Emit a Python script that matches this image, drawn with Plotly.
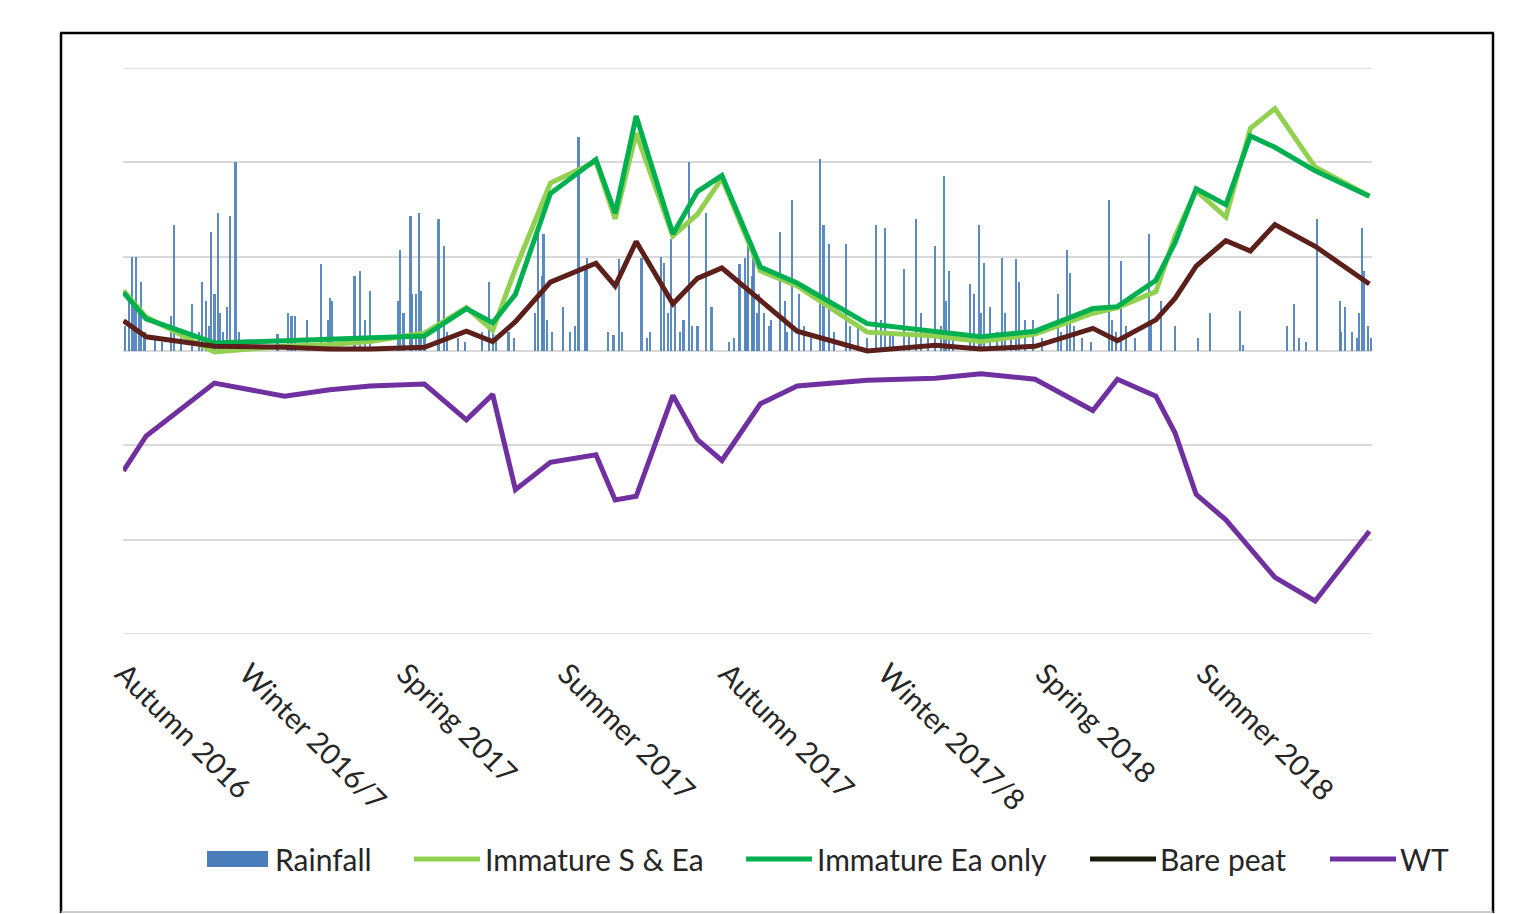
import pandas as pd
import plotly.graph_objects as go

# ---- data -------------------------------------------------------------
sample_dates = [
    "2016-09-21", "2016-10-04", "2016-11-12", "2016-12-22", "2017-01-17",
    "2017-02-09", "2017-03-12", "2017-04-05", "2017-04-20", "2017-05-03",
    "2017-05-23", "2017-06-18", "2017-06-29", "2017-07-11", "2017-08-01",
    "2017-08-15", "2017-08-29", "2017-09-20", "2017-10-11", "2017-11-20",
    "2017-12-29", "2018-01-24", "2018-02-24", "2018-03-29", "2018-04-12",
    "2018-05-04", "2018-05-15", "2018-05-27", "2018-06-13", "2018-06-27",
    "2018-07-11", "2018-08-03", "2018-09-03",
]
immature_s_ea = [0.64, 0.36, -0.01, 0.05, 0.07, 0.10, 0.19, 0.46, 0.22, 0.87,
                 1.78, 2.01, 1.40, 2.31, 1.22, 1.45, 1.83, 0.85, 0.69, 0.20,
                 0.16, 0.10, 0.18, 0.40, 0.46, 0.63, 1.22, 1.70, 1.42, 2.36,
                 2.57, 1.95, 1.64]
immature_ea = [0.62, 0.34, 0.085, 0.11, 0.12, 0.13, 0.16, 0.45, 0.30, 0.60,
               1.67, 2.03, 1.46, 2.49, 1.24, 1.69, 1.86, 0.89, 0.72, 0.29,
               0.21, 0.15, 0.21, 0.45, 0.47, 0.75, 1.15, 1.72, 1.55, 2.28,
               2.16, 1.91, 1.64]
bare_peat = [0.32, 0.15, 0.05, 0.04, 0.02, 0.02, 0.04, 0.21, 0.10, 0.31,
             0.73, 0.93, 0.69, 1.16, 0.50, 0.77, 0.88, 0.53, 0.21, 0.00,
             0.06, 0.02, 0.05, 0.24, 0.11, 0.33, 0.56, 0.90, 1.17, 1.06,
             1.34, 1.11, 0.71]
water_table = [-1.27, -0.90, -0.34, -0.48, -0.41, -0.37, -0.35, -0.73, -0.46, -1.47,
               -1.18, -1.10, -1.58, -1.54, -0.47, -0.94, -1.16, -0.56, -0.37, -0.31,
               -0.29, -0.24, -0.30, -0.63, -0.30, -0.48, -0.87, -1.52, -1.79, -2.10,
               -2.40, -2.65, -1.91]

# daily rainfall (mm), wet days only, counted from the first day of the record
record_start = "2016-09-21"
rain_day = [1, 3, 5, 6, 7, 9, 10, 12, 18, 22, 27, 29, 33, 39, 43, 45, 47, 49, 50, 52,
            54, 55, 57, 59, 61, 64, 66,
            88, 94, 96, 98, 105, 113, 117, 118, 119, 132, 135, 138, 141, 157, 158, 160,
            164, 165, 167, 169, 170, 172,
            180, 183, 185, 191, 195, 205, 209, 211, 213, 220, 223, 235, 237, 239, 240,
            242, 245, 251, 255, 258, 260, 264, 265,
            277, 280, 283, 285, 296, 299, 301, 307, 309, 311, 313, 315, 318, 320, 323,
            325, 328, 333, 336, 346, 349, 352, 355,
            356, 357, 359, 360, 362, 363, 366, 369, 370, 375, 378, 379, 382, 386, 389,
            393, 398, 400, 403, 406, 413, 415, 420, 425, 430, 433, 435, 438, 440,
            446, 449, 453, 456, 460, 464, 467, 469, 470, 472, 474, 484, 486, 489, 490,
            492, 495, 499, 502, 504, 507, 510, 512, 515, 520, 525,
            534, 536, 539, 541, 543, 548, 553, 563, 565, 567, 570, 573, 578, 586, 587,
            593, 601, 614,
            621, 638, 640, 665, 669, 672, 676, 682, 695, 696, 698, 702, 705, 706, 708,
            709, 711, 713]
rain_mm = [4, 9, 15, 8, 15, 6, 11, 3, 2, 1.5, 5.6, 20, 2, 7.5, 3, 11, 8, 4, 19, 9,
           22, 6, 3, 7, 21.5, 30, 3,
           2.7, 6, 5.5, 5.5, 5, 13.8, 5, 8.5, 8, 12, 12.7, 5, 9.5, 8, 16, 6,
           21.5, 9, 9, 22, 9.5, 3,
           21, 16.7, 3, 2, 1.5, 3, 11, 4, 2.5, 3, 2, 6, 18.6, 12, 18.6,
           5, 3, 7, 3, 4, 34, 13, 14.8,
           3, 2.5, 14.6, 3, 14.8, 2, 3, 15, 14, 6, 17.8, 8, 3, 5, 30,
           4, 4, 22, 7, 1.5, 2, 13.8, 14.8,
           10, 17, 12, 15, 6, 9, 6, 4, 5, 19, 8, 3, 24, 9, 4,
           2, 30.5, 20, 17, 3, 17, 4, 4, 2, 20, 5, 19.5, 3, 2.5,
           13, 3, 21, 6, 2, 16.7, 4, 27.8, 8, 12.7, 3, 10.6, 9, 20, 6,
           14, 7, 3, 14.8, 6, 3, 14.6, 11, 5, 5, 2,
           9, 3, 16, 12.4, 4, 2, 1.5, 24, 5, 3, 14.3, 4, 2, 18.6, 5,
           8, 4, 2,
           6, 6.4, 1, 4, 7.5, 2, 1.5, 21, 8, 3, 7, 3, 2, 6, 19.5,
           12.7, 4, 2]

season_ticks = ["2016-09-21", "2016-12-01", "2017-03-01", "2017-06-01",
                "2017-09-01", "2017-12-01", "2018-03-01", "2018-06-01"]
season_labels = ["Autumn 2016", "Winter 2016/7", "Spring 2017", "Summer 2017",
                 "Autumn 2017", "Winter 2017/8", "Spring 2018", "Summer 2018"]

# ---- styling ----------------------------------------------------------
FONT = "Lato, 'Open Sans', sans-serif"
TEXT = "#262626"
C_RAIN = "#4a7ebb"
C_SEA = "#92d050"
C_EA = "#00b050"
C_PEAT = "#5c1f1a"
C_PEAT_KEY = "#1c1c0c"
C_WT = "#7030a0"
C_GRID = "#d9d9d9"

W, H = 1522, 914
L, R, T, B = 123, 1372, 68, 634   # plot area in pixels
RAIN_RANGE = [-45, 45]


def px(x):
    return (x - L) / (R - L)


def py(y):
    return (B - y) / (B - T)


rain_dates = pd.Timestamp(record_start) + pd.to_timedelta(rain_day, unit="D")

fig = go.Figure()

fig.add_trace(go.Bar(
    x=rain_dates, y=rain_mm, name="Rainfall",
    marker=dict(color=C_RAIN, line=dict(width=0), opacity=0.9),
    width=86400000 * 1.25, yaxis="y", showlegend=False,
))
series = [
    ("Immature S & Ea", immature_s_ea, C_SEA),
    ("Immature Ea only", immature_ea, C_EA),
    ("Bare peat", bare_peat, C_PEAT),
    ("WT", water_table, C_WT),
]
for name, vals, col in series:
    fig.add_trace(go.Scatter(
        x=sample_dates, y=vals, name=name, mode="lines",
        line=dict(color=col, width=5), yaxis="y2", showlegend=False,
    ))

shapes = [
    # grid lines on the outer edges of the value range
    dict(type="line", xref="paper", yref="y", x0=0, x1=1,
         y0=RAIN_RANGE[1], y1=RAIN_RANGE[1], layer="below",
         line=dict(color=C_GRID, width=1.5)),
    dict(type="line", xref="paper", yref="y", x0=0, x1=1,
         y0=RAIN_RANGE[0], y1=RAIN_RANGE[0], layer="below",
         line=dict(color=C_GRID, width=1.5)),
    # outer chart frame
    dict(type="line", xref="paper", yref="paper", x0=px(61), x1=px(61),
         y0=py(33), y1=py(913), line=dict(color="black", width=2.5)),
    dict(type="line", xref="paper", yref="paper", x0=px(60), x1=px(1494),
         y0=py(33), y1=py(33), line=dict(color="black", width=2.5)),
    dict(type="line", xref="paper", yref="paper", x0=px(1493), x1=px(1493),
         y0=py(33), y1=py(913), line=dict(color="black", width=2.5)),
    dict(type="line", xref="paper", yref="paper", x0=px(61), x1=px(1493),
         y0=py(912), y1=py(912), line=dict(color="#bfbfbf", width=1.5)),
]

# legend drawn as keys + labels along the bottom
key_y = 859
legend_items = [
    ("Rainfall", "box", C_RAIN, 207, 268, 273),
    ("Immature S & Ea", "line", C_SEA, 414, 480, 483),
    ("Immature Ea only", "line", C_EA, 746, 812, 815),
    ("Bare peat", "line", C_PEAT_KEY, 1090, 1156, 1158),
    ("WT", "line", C_WT, 1330, 1396, 1398),
]
annotations = []
for label, kind, col, k0, k1, tx in legend_items:
    if kind == "box":
        shapes.append(dict(type="rect", xref="paper", yref="paper",
                           x0=px(k0), x1=px(k1), y0=py(key_y + 8), y1=py(key_y - 8),
                           fillcolor=col, line=dict(width=0)))
    else:
        shapes.append(dict(type="line", xref="paper", yref="paper",
                           x0=px(k0), x1=px(k1), y0=py(key_y), y1=py(key_y),
                           line=dict(color=col, width=5)))
    annotations.append(dict(xref="paper", yref="paper", x=px(tx), y=py(key_y),
                            xanchor="left", yanchor="middle", showarrow=False,
                            text=label, font=dict(family=FONT, size=30, color=TEXT)))

fig.update_layout(
    width=W, height=H,
    margin=dict(l=L, r=W - R, t=T, b=H - B, pad=0),
    paper_bgcolor="white", plot_bgcolor="white",
    bargap=0,
    xaxis=dict(
        type="date", range=["2016-09-20 18:00", "2018-09-04 12:00"],
        tickvals=season_ticks, ticktext=season_labels, tickangle=45,
        tickfont=dict(family=FONT, size=29, color=TEXT),
        showgrid=False, zeroline=False, showline=False, ticks="",
        ticklabelstandoff=16,
    ),
    yaxis=dict(
        range=RAIN_RANGE, dtick=15, showticklabels=False, ticks="",
        showgrid=True, gridcolor=C_GRID, gridwidth=1.5,
        zeroline=False, showline=False,
    ),
    yaxis2=dict(
        range=[-3, 3], overlaying="y", side="right", showticklabels=False,
        ticks="", showgrid=False, zeroline=False, showline=False,
    ),
    shapes=shapes,
    annotations=annotations,
    showlegend=False,
)

fig.write_html("out.html")
